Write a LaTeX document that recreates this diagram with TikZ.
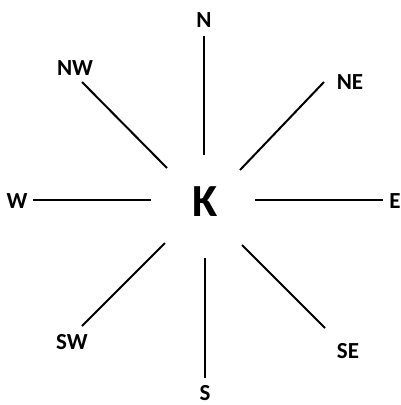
\documentclass[tikz,border=0pt]{standalone}
\usepackage{fontspec}
\setmainfont{Carlito}

\begin{document}
\begin{tikzpicture}[x=1pt,y=-1pt]
	\tikzset{dirlabel/.style={font=\bfseries\fontsize{23}{23}\selectfont, inner sep=0pt},
		ray/.style={line width=2pt}}
	\useasboundingbox (0,0) rectangle (401,405);
	% centre letter
	\node[font=\bfseries\fontsize{46}{46}\selectfont, inner sep=0pt] (k) at (205,202) {K};
	% direction labels
	\node[dirlabel] (n) at (204,20) {N};
	\node[dirlabel] (nw) at (75,68) {NW};
	\node[dirlabel] (ne) at (350,82) {NE};
	\node[dirlabel] (w) at (17,201) {W};
	\node[dirlabel] (e) at (395,201) {E};
	\node[dirlabel] (sw) at (72,342) {SW};
	\node[dirlabel] (s) at (205,393) {S};
	\node[dirlabel] (se) at (348,351) {SE};
	% ends of the rays
	\coordinate (n1) at (204,36);   \coordinate (n2) at (204,155);
	\coordinate (nw1) at (82,82);   \coordinate (nw2) at (167,168);
	\coordinate (ne1) at (324,82);  \coordinate (ne2) at (240,170);
	\coordinate (w1) at (33,200);   \coordinate (w2) at (151,200);
	\coordinate (e1) at (383,200);  \coordinate (e2) at (255,200);
	\coordinate (sw1) at (82,326);  \coordinate (sw2) at (165,243);
	\coordinate (s1) at (205,378);  \coordinate (s2) at (205,258);
	\coordinate (se1) at (325,328); \coordinate (se2) at (242,245);
	\foreach \d in {n,nw,ne,w,e,sw,s,se}
		\draw[ray] (\d1) -- (\d2);
\end{tikzpicture}
\end{document}
